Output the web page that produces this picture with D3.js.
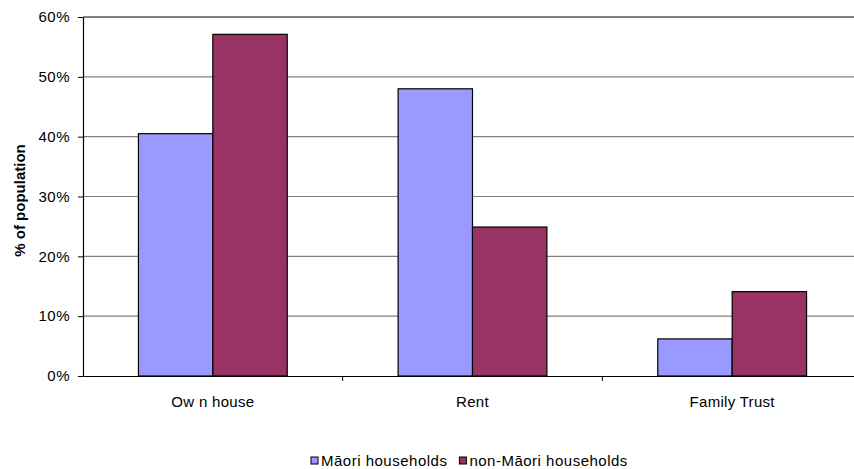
<!DOCTYPE html>
<html>
<head>
<meta charset="utf-8">
<script src="https://cdn.jsdelivr.net/npm/d3@7"></script>
<style>
  html, body { margin: 0; padding: 0; background: #fff; }
  svg { display: block; font-family: "Liberation Sans", Arial, sans-serif; }
</style>
</head>
<body>
<svg id="chart" width="854" height="469"></svg>
<script>
// Housing tenure by household type
const categories = ["Ow n house", "Rent", "Family Trust"];
const seriesNames = ["Māori households", "non-Māori households"];
const maoriValues = [40.5, 48.0, 6.2];
const nonMaoriValues = [57.1, 24.9, 14.1];
const yTicks = [0, 10, 20, 30, 40, 50, 60];
const seriesColors = ["#9999FF", "#993366"];

const svg = d3.select("#chart");
const margin = { left: 83, top: 17, right: -8, bottom: 93 };
const width = 854 - margin.left - margin.right;
const height = 469 - margin.top - margin.bottom;
const g = svg.append("g").attr("transform", `translate(${margin.left},${margin.top})`);

const x0 = d3.scaleBand().domain(categories).range([0, width]).paddingInner(0).paddingOuter(0);
const x1 = d3.scaleBand().domain(seriesNames).range([x0.bandwidth() * 0.2135, x0.bandwidth() * 0.7865]).padding(0);
const y = d3.scaleLinear().domain([0, 60]).range([height, 0]);

// gridlines
g.append("g").selectAll("line").data(yTicks.filter(t => t > 0 && t < 60)).join("line")
  .attr("x1", 0).attr("x2", width)
  .attr("y1", d => y(d)).attr("y2", d => y(d))
  .attr("stroke", "#808080").attr("stroke-width", 1.2);
// top border of the plot area
g.append("line").attr("x1", 0).attr("x2", width).attr("y1", y(60)).attr("y2", y(60))
  .attr("stroke", "#000").attr("stroke-width", 1.2);

// bars
const rows = categories.map((c, i) => ({ cat: c, vals: [maoriValues[i], nonMaoriValues[i]] }));
g.append("g").selectAll("g").data(rows).join("g")
  .attr("transform", d => `translate(${x0(d.cat)},0)`)
  .selectAll("rect").data(d => d.vals.map((v, j) => ({ key: seriesNames[j], v, j }))).join("rect")
  .attr("x", d => x1(d.key))
  .attr("width", x1.bandwidth())
  .attr("y", d => y(d.v))
  .attr("height", d => y(0) - y(d.v))
  .attr("fill", d => seriesColors[d.j])
  .attr("stroke", "#000").attr("stroke-width", 1.2);

// y axis
const yAxis = g.append("g").call(d3.axisLeft(y).tickValues(yTicks).tickFormat(d => d + "%").tickSize(5).tickSizeOuter(0));
yAxis.select(".domain").attr("stroke", "#000").attr("stroke-width", 1.2);
yAxis.selectAll(".tick line").attr("stroke", "#000");
yAxis.selectAll(".tick text").attr("font-size", 15).attr("fill", "#000").attr("x", -13)
  .attr("letter-spacing", 0.5)
  .attr("font-family", "Liberation Sans, Arial, sans-serif");

// x axis
const xAxis = g.append("g").attr("transform", `translate(0,${height})`)
  .call(d3.axisBottom(x0).tickSize(0).tickSizeOuter(0));
xAxis.select(".domain").attr("stroke", "#000").attr("stroke-width", 1.2);
xAxis.selectAll(".tick text").attr("font-size", 15).attr("fill", "#000")
  .attr("y", 0).attr("dy", 0).attr("transform", "translate(0,30.5)")
  .attr("letter-spacing", 0.3)
  .attr("font-family", "Liberation Sans, Arial, sans-serif");
// category separators
g.append("g").selectAll("line").data(categories.slice(1)).join("line")
  .attr("x1", d => x0(d)).attr("x2", d => x0(d))
  .attr("y1", height).attr("y2", height + 5)
  .attr("stroke", "#000");

// y axis title
svg.append("text")
  .attr("transform", `translate(25,${margin.top + height / 2 + 4}) rotate(-90)`)
  .attr("text-anchor", "middle")
  .attr("font-size", 15).attr("font-weight", "bold")
  .text("% of population");

// legend
const legend = svg.append("g").attr("transform", "translate(311,466)");
let lx = 0;
seriesNames.forEach((name, i) => {
  legend.append("rect").attr("x", lx).attr("y", -9).attr("width", 7).attr("height", 7)
    .attr("fill", seriesColors[i]).attr("stroke", "#000").attr("stroke-width", 1);
  const t = legend.append("text").attr("x", lx + 10).attr("y", 0).attr("font-size", 15)
    .attr("letter-spacing", 0.5).text(name);
  lx += 10 + t.node().getComputedTextLength() + 12;
});
</script>
</body>
</html>
